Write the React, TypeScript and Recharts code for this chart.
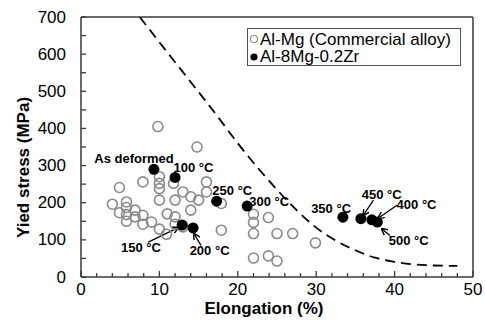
import React from 'react';
import {
  ComposedChart,
  Scatter,
  Line,
  XAxis,
  YAxis,
  ReferenceLine,
  ReferenceDot,
} from 'recharts';

// Al-Mg commercial alloys (elongation %, yield stress MPa)
const commercialElong = [4.0, 4.9, 4.9, 5.8, 5.8, 5.8, 5.8, 6.9, 6.9, 7.9, 7.9, 7.9, 9.0, 9.8, 10, 10, 10, 10, 10, 10.9, 11, 11.8, 12, 12, 12, 13, 13, 14, 14, 15, 14.8, 16, 16, 17.9, 17.9, 22, 22, 23.9, 22, 25, 27, 29.9, 22, 23.9, 25];
const commercialStress = [196, 241, 173, 202, 187, 168, 150, 180, 162, 256, 166, 142, 148, 405, 270, 252, 238, 207, 129, 115, 170, 252, 207, 162, 142, 229, 135, 216, 180, 207, 350, 256, 229, 198, 126, 169, 147, 160, 117, 117, 117, 92, 51, 57, 43];

// Al-8Mg-0.2Zr after annealing
const zrLabels = ['As deformed', '100 °C', '150 °C', '200 °C', '250 °C', '300 °C', '350 °C', '450 °C', '400 °C', '500 °C'];
const zrElong = [9.3, 12, 12.9, 14.3, 17.3, 21.2, 33.4, 35.7, 37.1, 37.8];
const zrStress = [290, 268, 140, 132, 204, 191, 161, 157, 154, 148];

// dashed trend boundary
const trendElong = [7.5, 10, 12.5, 15, 17.5, 20, 22.5, 25, 27.5, 30, 32.5, 35, 37.5, 40, 42.5, 45, 48];
const trendStress = [700, 632, 565, 498, 430, 360, 295, 235, 180, 133, 98, 72, 52, 41, 34, 31, 30];

// annotation text anchors and arrows, in data units
const noteText = ['As deformed', '100 °C', '250 °C', '300 °C', '350 °C', '450 °C', '400 °C', '500 °C', '150 °C', '200 °C'];
const noteX = [6.76, 14.35, 19.3, 24.0, 31.9, 38.35, 42.8, 41.8, 7.65, 16.4];
const noteY = [320, 296, 232, 204, 186, 223, 195, 98, 81, 73];
const arrowFrom = [[8.58, 94], [15.3, 85], [37.3, 207], [40.3, 193], [39.4, 112]];
const arrowTo = [[12.4, 133], [14.4, 117], [36.0, 166], [37.9, 158], [38.35, 130]];

const xTicks = [0, 2, 4, 6, 8, 10, 12, 14, 16, 18, 20, 22, 24, 26, 28, 30, 32, 34, 36, 38, 40, 42, 44, 46, 48, 50];
const yTicks = [0, 50, 100, 150, 200, 250, 300, 350, 400, 450, 500, 550, 600, 650, 700];

const FONT = 'Arial, "Liberation Sans", sans-serif';
const AXIS = '#3a3a3a';

const commercialData = commercialElong.map((x, i) => ({ x, y: commercialStress[i] }));
const zrData = zrElong.map((x, i) => ({ x, y: zrStress[i], name: zrLabels[i] }));
const trendData = trendElong.map((x, i) => ({ x, y: trendStress[i] }));

const HollowDot = (props: any) => (
  <circle cx={props.cx} cy={props.cy} r={5} fill="none" stroke="#8a8a8a" strokeWidth={1.6} />
);
const SolidDot = (props: any) => <circle cx={props.cx} cy={props.cy} r={5.5} fill="#000" />;

const YTick = (props: any) => {
  const { x, y, payload } = props;
  const major = payload.value % 100 === 0;
  return (
    <g>
      <line x1={x} x2={x + 5} y1={y} y2={y} stroke={AXIS} strokeWidth={1.3} />
      {major && (
        <text x={x - 15} y={y} textAnchor="end" dominantBaseline="central" fontSize={17} fontFamily={FONT} fill="#000">
          {payload.value}
        </text>
      )}
    </g>
  );
};

const XTick = (props: any) => {
  const { x, y, payload } = props;
  const major = payload.value % 10 === 0;
  return (
    <g>
      <line x1={x} x2={x} y1={y} y2={y - (major ? 6 : 4)} stroke={AXIS} strokeWidth={1.3} />
      {major && (
        <text x={x} y={y + 12} textAnchor="middle" dominantBaseline="central" fontSize={17} fontFamily={FONT} fill="#000">
          {payload.value}
        </text>
      )}
    </g>
  );
};

const ArrowShape = (props: any) => (
  <line x1={props.x1} y1={props.y1} x2={props.x2} y2={props.y2} stroke="#000" strokeWidth={1.3} markerEnd="url(#arrowHead)" />
);

export default function App() {
  return (
    <div style={{ position: 'absolute', left: 0, top: 0, width: 485, height: 320, background: '#fff' }}>
      <svg width={0} height={0} style={{ position: 'absolute' }}>
        <defs>
          <marker id="arrowHead" viewBox="0 0 10 10" refX="9" refY="5" markerWidth="7" markerHeight="7" orient="auto" markerUnits="userSpaceOnUse">
            <path d="M0,0 L10,5 L0,10" fill="none" stroke="#000" strokeWidth={2} />
          </marker>
        </defs>
      </svg>
      <ComposedChart width={485} height={320} margin={{ top: 17, right: 12, left: 0, bottom: 0 }}>
        <XAxis
          type="number"
          dataKey="x"
          domain={[0, 50]}
          ticks={xTicks}
          interval={0}
          height={43}
          tickSize={0}
          tickMargin={0}
          tickLine={false}
          tick={<XTick />}
          stroke={AXIS}
          strokeWidth={1.5}
          allowDataOverflow
          label={(p: any) => (
            <text x={264} y={314} textAnchor="middle" fontSize={17} fontWeight="bold" fontFamily={FONT} fill="#000">
              Elongation (%)
            </text>
          )}
        />
        <YAxis
          type="number"
          dataKey="y"
          domain={[0, 700]}
          ticks={yTicks}
          interval={0}
          width={81}
          tickSize={0}
          tickMargin={0}
          tickLine={false}
          tick={<YTick />}
          stroke={AXIS}
          strokeWidth={1.5}
          allowDataOverflow
          label={(p: any) => (
            <text x={23} y={167.5} transform="rotate(-90 23 167.5)" textAnchor="middle" dominantBaseline="central" fontSize={17} fontWeight="bold" fontFamily={FONT} fill="#000">
              Yied stress (MPa)
            </text>
          )}
        />
        <ReferenceLine y={700} stroke={AXIS} strokeWidth={1.5} />
        <ReferenceLine x={50} stroke={AXIS} strokeWidth={1.5} />
        <Line
          data={trendData}
          dataKey="y"
          stroke="#000"
          strokeWidth={1.8}
          strokeDasharray="10 6"
          dot={false}
          activeDot={false}
          type="monotone"
          isAnimationActive={false}
        />
        <Scatter data={commercialData} shape={HollowDot} isAnimationActive={false} />
        <Scatter data={zrData} shape={SolidDot} isAnimationActive={false} />
        {arrowFrom.map((a, i) => (
          <ReferenceLine
            key={`arrow-${i}`}
            segment={[{ x: a[0], y: a[1] }, { x: arrowTo[i][0], y: arrowTo[i][1] }]}
            shape={ArrowShape}
          />
        ))}
        {noteText.map((t, i) => (
          <ReferenceDot
            key={`note-${i}`}
            x={noteX[i]}
            y={noteY[i]}
            r={0}
            fill="none"
            stroke="none"
            label={{ value: t, position: 'center', fontSize: 13, fontWeight: 'bold', fontFamily: FONT, fill: '#000' }}
          />
        ))}
      </ComposedChart>
      <div
        style={{
          position: 'absolute',
          left: 247,
          top: 28,
          width: 212,
          height: 36,
          border: '1px solid #555',
          background: '#fff',
          fontFamily: FONT,
          fontSize: 17,
          lineHeight: '17px',
          color: '#000',
        }}
      >
        <div style={{ display: 'flex', alignItems: 'center', height: 18, paddingTop: 1 }}>
          <svg width={11} height={10} style={{ marginLeft: 1 }}>
            <circle cx={5} cy={5} r={3.5} fill="none" stroke="#8a8a8a" strokeWidth={1.2} />
          </svg>
          <span style={{ whiteSpace: 'nowrap' }}>Al-Mg (Commercial alloy)</span>
        </div>
        <div style={{ display: 'flex', alignItems: 'center', height: 17 }}>
          <svg width={11} height={10} style={{ marginLeft: 1 }}>
            <circle cx={5} cy={5} r={3.6} fill="#000" />
          </svg>
          <span style={{ whiteSpace: 'nowrap' }}>Al-8Mg-0.2Zr</span>
        </div>
      </div>
    </div>
  );
}
